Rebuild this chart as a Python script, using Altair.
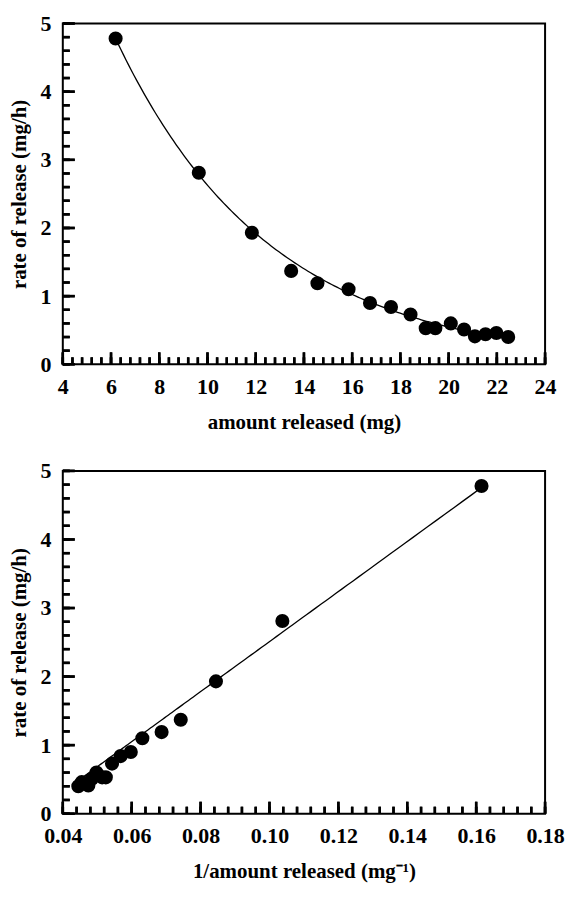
import altair as alt
import numpy as np
import pandas as pd

# Data
amount = [6.19, 9.64, 11.84, 13.47, 14.56, 15.85, 16.74, 17.61, 18.42,
          19.05, 19.45, 20.09, 20.64, 21.09, 21.53, 21.98, 22.47]
rate = [4.78, 2.81, 1.93, 1.37, 1.19, 1.10, 0.90, 0.84, 0.73,
        0.53, 0.53, 0.60, 0.51, 0.41, 0.44, 0.46, 0.40]

# Fitted curves
top_fit_c = 12.63      # rate = c * exp(-k * amount)
top_fit_k = 0.157
bot_fit_slope = 36.5   # rate = slope * (1/amount) + intercept
bot_fit_intercept = -1.14

top_major = [4, 6, 8, 10, 12, 14, 16, 18, 20, 22, 24]
top_minor = [float(round(v, 2)) for v in np.arange(4, 24.001, 0.4)]
y_major = [0, 1, 2, 3, 4, 5]
y_minor = [float(round(v, 2)) for v in np.arange(0, 5.001, 0.2)]
bot_major = [0.04, 0.06, 0.08, 0.10, 0.12, 0.14, 0.16, 0.18]
bot_minor = [float(round(v, 4)) for v in np.arange(0.04, 0.18001, 0.004)]

pts = pd.DataFrame({"amount": amount, "rate": rate})
amt_grid = pd.DataFrame({"amount": np.linspace(min(amount), max(amount), 150)})

FONT = "Liberation Serif"


def label_axis(values, title, fmt, pad, tpad):
    return alt.Axis(values=values, title=title, format=fmt,
                    ticks=False, tickSize=0, domain=False, grid=False,
                    labelPadding=pad, titlePadding=tpad,
                    labelFont=FONT, labelFontSize=22, labelFontWeight="bold",
                    labelColor="black", titleFont=FONT, titleFontSize=21,
                    titleFontWeight="bold", titleColor="black",
                    labelFlush=False, labelOverlap=False)


def panel(xfield, xdomain, xmajor, xminor, xfmt, xtitle, w, h, line):
    xs = alt.Scale(domain=xdomain, nice=False, zero=False)
    ys = alt.Scale(domain=[0, 5], nice=False)
    xax = label_axis(xmajor, xtitle, xfmt, 12, 14)
    yax = label_axis(y_major, "rate of release (mg/h)", "d", 12, 10)

    def ticks_x(vals, length):
        rule = alt.Chart(pd.DataFrame({"t": vals})).mark_rule(
            color="black", strokeWidth=2.5).encode(
            x=alt.X("t:Q", scale=xs, axis=xax),
            y=alt.value(h), y2=alt.value(h - length))
        tick = alt.Chart(pd.DataFrame({"t": vals})).mark_tick(
            color="black", thickness=2.5, size=length, opacity=1).encode(
            x=alt.X("t:Q", scale=xs, axis=xax),
            y=alt.value(h - length / 2))
        return [rule, tick]

    def ticks_y(vals, length):
        rule = alt.Chart(pd.DataFrame({"t": vals})).mark_rule(
            color="black", strokeWidth=2.5).encode(
            y=alt.Y("t:Q", scale=ys, axis=yax),
            x=alt.value(0), x2=alt.value(length))
        tick = alt.Chart(pd.DataFrame({"t": vals})).mark_tick(
            color="black", thickness=2.5, size=length, opacity=1).encode(
            y=alt.Y("t:Q", scale=ys, axis=yax),
            x=alt.value(length / 2))
        return [rule, tick]

    base = alt.Chart(pts)
    if xfield == "inv":
        base = base.transform_calculate(inv="1 / datum.amount")
    dots = base.mark_circle(color="black", opacity=1, size=200).encode(
        x=alt.X(f"{xfield}:Q", scale=xs, axis=xax),
        y=alt.Y("rate:Q", scale=ys, axis=yax),
    )
    line = line.encode(x=alt.X(f"{xfield}:Q", scale=xs, axis=xax),
                       y=alt.Y("rate:Q", scale=ys, axis=yax),
                       order=alt.Order("amount:Q"))
    layers = [line, dots]
    layers += ticks_x(xminor, 7) + ticks_x(xmajor, 12)
    layers += ticks_y(y_minor, 7) + ticks_y(y_major, 12)
    return alt.layer(*layers).properties(width=w, height=h)


top_line = alt.Chart(amt_grid).transform_calculate(
    rate=f"{top_fit_c} * exp(-{top_fit_k} * datum.amount)"
).mark_line(color="black", strokeWidth=1.3)

bot_line = alt.Chart(amt_grid).transform_calculate(
    inv="1 / datum.amount",
    rate=f"{bot_fit_slope} * datum.inv + ({bot_fit_intercept})"
).mark_line(color="black", strokeWidth=1.3)

top = panel("amount", [4, 24], top_major, top_minor, "d",
            "amount released (mg)", 484, 342, top_line)
bottom = panel("inv", [0.04, 0.18], bot_major, bot_minor, ".2f",
               "1/amount released (mg\u207b\u00b9)", 484, 344, bot_line)

chart = alt.vconcat(top, bottom, spacing=26).configure_view(
    stroke="black", strokeWidth=2).properties(
    padding={"left": 0, "top": 2, "right": 0, "bottom": 0})

chart.save("out.html", embed_options={"renderer": "svg", "actions": False})
